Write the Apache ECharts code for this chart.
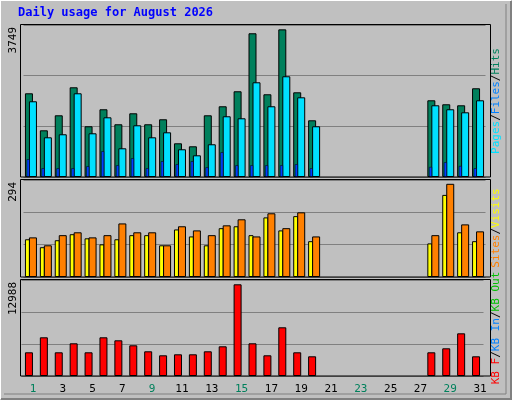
<!DOCTYPE html><html><head><meta charset="utf-8">
<script src="https://cdn.jsdelivr.net/npm/echarts@6/dist/echarts.min.js"></script>
<style>html,body{margin:0;padding:0;background:#c0c0c0}#c{width:512px;height:400px}</style></head><body><div id="c"></div>
<script>
const days=['1','2','3','4','5','6','7','8','9','10','11','12','13','14','15','16','17','18','19','20','21','22','23','24','25','26','27','28','29','30','31'];
const weekendDays=['1','2','8','9','15','16','22','23','29','30'];
const N=null;
const hits=[2126,1186,1567,2278,1288,1720,1339,1618,1339,1466,856,780,1567,1796,2177,3650,2101,3749,2151,1440,N,N,N,N,N,N,N,1948,1847,1821,2253];
const files=[1923,1008,1085,2126,1110,1516,729,1313,1008,1135,704,551,831,1542,1491,2405,1796,2558,2024,1288,N,N,N,N,N,N,N,1821,1720,1643,1948];
const pages=[450,221,221,221,272,653,297,475,221,399,323,399,246,627,297,297,297,297,323,221,N,N,N,N,N,N,N,254,373,279,221];
const sites=[119,94,116,135,122,103,119,132,132,100,150,128,100,154,160,132,188,147,192,113,N,N,N,N,N,N,N,106,259,141,113];
const visits=[125,100,132,141,125,132,169,141,141,100,160,147,132,163,182,128,201,154,204,128,N,N,N,N,N,N,N,132,294,166,144];
const kbytes=[3356,5480,3356,4630,3356,5480,5055,4347,3498,2931,3073,3073,3498,4206,12988,4630,2931,6896,3356,2790,N,N,N,N,N,N,N,3356,3922,6046,2790];
const maxLabels=['3749','294','12988'];
const title='Daily usage for August 2026';

const ch=echarts.init(document.getElementById('c'),null,{renderer:'canvas'});
const mono='DejaVu Sans Mono';
const bs={borderColor:'#000',borderWidth:1};
function xa(gi,show){return {type:'category',gridIndex:gi,data:days,show:show,axisLine:{show:false},axisTick:{show:false},
 axisLabel:{show:show,fontFamily:mono,fontSize:11,padding:[0,0,0,8],margin:8,
  color:(v)=>weekendDays.includes(v)?'#00805c':'#000'}};}
function ya(gi,max){return {type:'value',gridIndex:gi,min:0,max:max,interval:max/3,axisLabel:{show:false},axisLine:{show:false},axisTick:{show:false},splitLine:{lineStyle:{color:'#808080',width:1}}};}
const panels=[[25,152],[180,97],[280,96]];
ch.setOption({
 animation:false,backgroundColor:'#c0c0c0',
 grid:[{left:23.5,right:512-23.5-462,top:25,height:152},{left:23.5,right:512-23.5-462,top:180,height:97},{left:21.5,right:512-21.5-462,top:280,height:96}],
 xAxis:[xa(0,false),xa(0,false),xa(1,false),xa(2,true)],
 yAxis:[ya(0,3860),ya(1,306),ya(2,13597)],
 series:[
  {type:'bar',xAxisIndex:0,yAxisIndex:0,data:hits,barWidth:8,barGap:'-50%',itemStyle:{color:'#00805c',...bs}},
  {type:'bar',xAxisIndex:0,yAxisIndex:0,data:files,barWidth:8,itemStyle:{color:'#00e0ff',...bs}},
  {type:'bar',xAxisIndex:1,yAxisIndex:0,data:pages,barWidth:3,barGap:'87%',itemStyle:{color:'#0040ff',borderColor:'#000',borderWidth:0.5}},
  {type:'bar',xAxisIndex:1,yAxisIndex:0,data:days.map(()=>null),barWidth:3},
  {type:'bar',xAxisIndex:2,yAxisIndex:1,data:sites,barWidth:5,barGap:'-20%',itemStyle:{color:'#ffff00',...bs}},
  {type:'bar',xAxisIndex:2,yAxisIndex:1,data:visits,barWidth:8,itemStyle:{color:'#ff8000',...bs}},
  {type:'bar',xAxisIndex:3,yAxisIndex:2,data:kbytes,barWidth:8,itemStyle:{color:'#ff0000',...bs}}
 ],
 graphic:[
  {type:'polyline',shape:{points:[[0,399],[0,0],[511,0]]},style:{stroke:'#fff',lineWidth:2,fill:null},z:100},
  {type:'polyline',shape:{points:[[1,399],[511,399],[511,1]]},style:{stroke:'#808080',lineWidth:2,fill:null},z:100},
  {type:'polyline',shape:{points:[[4,394],[506,394],[506,4]]},style:{stroke:'#808080',lineWidth:1,fill:null},z:100},
  ...panels.map(p=>({type:'rect',shape:{x:20.5,y:p[0]-0.5,width:470,height:p[1]+0.5},style:{fill:null,stroke:'#000',lineWidth:1},z:50})),
  {type:'text',left:18,top:7,style:{text:title,font:'bold 12px "DejaVu Sans Mono"',fill:'#0000ff'}},
  ...panels.map((p,i)=>({type:'text',x:8,y:p[0]+2,rotation:Math.PI/2,style:{text:maxLabels[i],font:'11px "DejaVu Sans Mono"',fill:'#000',align:'right',verticalAlign:'top'}})),
  {type:'text',x:496,y:101,rotation:Math.PI/2,style:{text:'{c|Pages}{k|/}{b|Files}{k|/}{g|Hits}',align:'center',verticalAlign:'middle',font:'11px "DejaVu Sans Mono"',
    rich:{c:{fill:'#00e0ff',font:'11px "DejaVu Sans Mono"'},b:{fill:'#0080ff',font:'11px "DejaVu Sans Mono"'},g:{fill:'#00805c',font:'11px "DejaVu Sans Mono"'},k:{fill:'#000',font:'11px "DejaVu Sans Mono"'}}}},
  {type:'text',x:496,y:228,rotation:Math.PI/2,style:{text:'{o|Sites}{k|/}{y|Visits}',align:'center',verticalAlign:'middle',font:'11px "DejaVu Sans Mono"',
    rich:{o:{fill:'#ff8000',font:'11px "DejaVu Sans Mono"'},y:{fill:'#ffff00',font:'11px "DejaVu Sans Mono"'},k:{fill:'#000',font:'11px "DejaVu Sans Mono"'}}}},
  {type:'text',x:496,y:328,rotation:Math.PI/2,style:{text:'{r|KB F}{k|/}{b|KB In}{k|/}{g|KB Out}',align:'center',verticalAlign:'middle',font:'11px "DejaVu Sans Mono"',
    rich:{r:{fill:'#ff0000',font:'11px "DejaVu Sans Mono"'},b:{fill:'#0080ff',font:'11px "DejaVu Sans Mono"'},g:{fill:'#00c000',font:'11px "DejaVu Sans Mono"'},k:{fill:'#000',font:'11px "DejaVu Sans Mono"'}}}}
 ]
});
</script></body></html>
